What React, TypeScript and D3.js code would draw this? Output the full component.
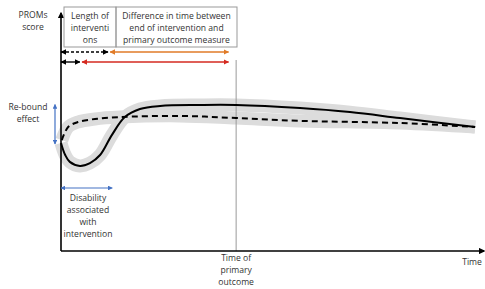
import React from "react"
import * as d3 from "d3"

// conceptual PROMs trajectories (time units 0-100, score units 0-100)
const solidTime = [0, 1, 2.1, 4.5, 6.9, 9.3, 12.1, 15.2, 18.8, 23.6, 33, 41.7, 56.9, 68.8, 80.7, 98.6]
const solidScore = [45.6, 40.5, 37.6, 35.9, 37.1, 40.5, 48.9, 56.5, 59.9, 61.2, 61.6, 61.6, 60.3, 58.6, 56.1, 52.3]
const dashedTime = [0.2, 1.7, 4.0, 8.1, 14.0, 28.3, 41.7, 56.9, 80.7, 98.6]
const dashedScore = [46.8, 52.3, 54.4, 55.7, 56.5, 57.0, 56.1, 54.9, 54.0, 52.3]

// interval markers (time units)
const longIntervention = [0, 11.2]
const longGap = [11.7, 39.9]
const shortIntervention = [0, 4.5]
const shortGap = [5, 39.9]
const primaryTime = 41.7
const disability = [0, 12.2]
const rebound = [45.1, 61.8]

const font = "'Open Sans', 'Liberation Sans', sans-serif"

const App: React.FunctionComponent = () => {
	const W = 485
	const H = 289
	const x = d3.scaleLinear().domain([0, 100]).range([61, 481])
	const y = d3.scaleLinear().domain([0, 100]).range([251, 14])

	const line = d3
		.line<[number, number]>()
		.x((d) => x(d[0]))
		.y((d) => y(d[1]))
		.curve(d3.curveCatmullRom)

	const solid = solidTime.map((t, i) => [t, solidScore[i]] as [number, number])
	const dashed = dashedTime.map((t, i) => [t, dashedScore[i]] as [number, number])

	const txt = (lines: string[], cx: number, y0: number, anchor = "middle", lh = 12) =>
		lines.map((s, i) => (
			<text key={s + i} x={cx} y={y0 + i * lh} textAnchor={anchor} fontSize={8.6} fill="#333" fontFamily={font}>
				{s}
			</text>
		))

	const hArrow = (r: number[], yy: number, color: string, dash?: string) => (
		<line
			x1={x(r[0])}
			x2={x(r[1])}
			y1={yy}
			y2={yy}
			stroke={color}
			strokeWidth={1.4}
			strokeDasharray={dash}
			markerEnd={`url(#ar-${color.slice(1)})`}
			markerStart={`url(#al-${color.slice(1)})`}
		/>
	)

	const colors = ["#000000", "#e07b28", "#d42a20", "#4472c4"]

	return (
		<svg width={W} height={H} style={{ position: "absolute", left: 0, top: 0, background: "#fff" }}>
			<defs>
				{colors.map((c) => (
					<React.Fragment key={c}>
						<marker id={`ar-${c.slice(1)}`} viewBox="0 0 10 10" refX={9} refY={5} markerWidth={4} markerHeight={4} orient="auto">
							<path d="M0,0 L10,5 L0,10 z" fill={c} />
						</marker>
						<marker id={`al-${c.slice(1)}`} viewBox="0 0 10 10" refX={1} refY={5} markerWidth={4} markerHeight={4} orient="auto">
							<path d="M10,0 L0,5 L10,10 z" fill={c} />
						</marker>
					</React.Fragment>
				))}
				<marker id="axisArrow" viewBox="0 0 10 10" refX={8} refY={5} markerWidth={4} markerHeight={4} orient="auto">
					<path d="M0,0 L10,5 L0,10 z" fill="#000" />
				</marker>
			</defs>

			{/* grey uncertainty bands */}
			<path d={line(solid) || ""} fill="none" stroke="#dcdcdc" strokeWidth={13} strokeLinecap="butt" />
			<path d={line(dashed) || ""} fill="none" stroke="#dcdcdc" strokeWidth={13} strokeLinecap="butt" />

			{/* time of primary outcome */}
			<line x1={x(primaryTime)} x2={x(primaryTime)} y1={60} y2={y(0)} stroke="#999" strokeWidth={1} />

			{/* trajectories */}
			<path d={line(solid) || ""} fill="none" stroke="#000" strokeWidth={2} />
			<path d={line(dashed) || ""} fill="none" stroke="#000" strokeWidth={2} strokeDasharray="6,4" />

			{/* axes */}
			<line x1={x(0)} x2={x(0)} y1={y(0)} y2={y(100) - 1} stroke="#000" strokeWidth={1.6} markerEnd="url(#axisArrow)" />
			<line x1={x(0)} x2={484} y1={y(0)} y2={y(0)} stroke="#000" strokeWidth={1.6} markerEnd="url(#axisArrow)" />

			{/* header boxes */}
			<rect x={64} y={7} width={52} height={40} fill="none" stroke="#999" strokeWidth={1} />
			<rect x={116} y={7} width={121} height={40} fill="none" stroke="#999" strokeWidth={1} />
			{txt(["Length of", "interventi", "ons"], 90, 19)}
			{txt(["Difference in time between", "end of intervention and", "primary outcome measure"], 176.5, 19)}

			{/* interval arrows */}
			{hArrow(longIntervention, 52, "#000000", "3,2")}
			{hArrow(longGap, 52, "#e07b28")}
			{hArrow(shortIntervention, 62, "#000000")}
			{hArrow(shortGap, 62, "#d42a20")}

			{/* rebound & disability */}
			<line
				x1={55}
				x2={55}
				y1={y(rebound[0])}
				y2={y(rebound[1])}
				stroke="#4472c4"
				strokeWidth={1.2}
				markerEnd="url(#ar-4472c4)"
				markerStart="url(#al-4472c4)"
			/>
			<line
				x1={x(disability[0])}
				x2={x(disability[1])}
				y1={188}
				y2={188}
				stroke="#4472c4"
				strokeWidth={1.2}
				markerEnd="url(#ar-4472c4)"
				markerStart="url(#al-4472c4)"
			/>

			{/* labels */}
			{txt(["PROMs", "score"], 33, 18)}
			{txt(["Re-bound", "effect"], 28, 110)}
			{txt(["Disability", "associated", "with", "intervention"], 88, 201)}
			{txt(["Time of", "primary", "outcome"], x(primaryTime), 261)}
			{txt(["Time"], 472, 265)}
		</svg>
	)
}

export default App
